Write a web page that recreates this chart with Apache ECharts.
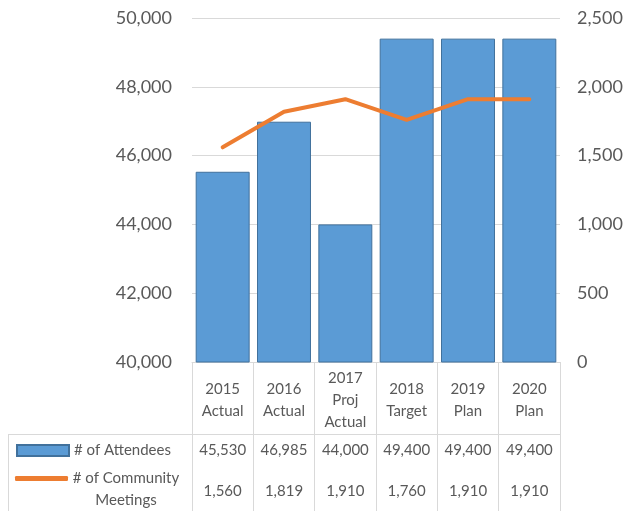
<!DOCTYPE html>
<html>
<head>
<meta charset="utf-8">
<script src="https://cdn.jsdelivr.net/npm/echarts@6/dist/echarts.min.js"></script>
<style>
    html, body { margin: 0; padding: 0; background: #fff; }
    #chart { width: 631px; height: 511px; }
</style>
</head>
<body>
<div id="chart"></div>
<script>
// data
const categories = ['2015\nActual', '2016\nActual', '2017\nProj\nActual', '2018\nTarget', '2019\nPlan', '2020\nPlan']
const attendees = [45530, 46985, 44000, 49400, 49400, 49400]
const meetings = [1560, 1819, 1910, 1760, 1910, 1910]
const leftTicks = {min: 40000, max: 50000, interval: 2000}
const rightTicks = {min: 0, max: 2500, interval: 500}

const FONT = 'Lato'
const TXT = '#595959'
const GRID_LINE = '#D9D9D9'
const fmt = v => v.toLocaleString('en-US')

const chart = echarts.init(document.getElementById('chart'))

chart.setOption({
    animation: false,
    textStyle: {fontFamily: FONT},
    grid: {left: 192, right: 71, top: 18, bottom: 149},
    legend: [
        {
            data: [{name: '# of Attendees', icon: 'rect'}],
            left: 16,
            top: 443,
            padding: 0,
            itemWidth: 52,
            itemHeight: 11,
            selectedMode: false,
            textStyle: {color: TXT, fontSize: 15, fontFamily: FONT}
        },
        {
            data: [{name: '# of Community Meetings', icon: 'roundRect'}],
            left: 15,
            top: 471,
            padding: 0,
            itemWidth: 53,
            itemHeight: 5,
            selectedMode: false,
            formatter: () => '{a|# of Community}\n{a|Meetings}',
            textStyle: {
                color: TXT, fontSize: 15, fontFamily: FONT,
                padding: [22, 0, 0, 0],
                rich: {a: {width: 106, align: 'center', lineHeight: 22, fontSize: 15, color: TXT, fontFamily: FONT}}
            }
        }
    ],
    xAxis: [
        {
            type: 'category',
            data: categories,
            position: 'bottom',
            axisLine: {show: true, lineStyle: {color: GRID_LINE, width: 1}},
            axisTick: {show: true, length: 149, lineStyle: {color: GRID_LINE, width: 1}},
            axisLabel: {color: TXT, fontSize: 15, lineHeight: 22, margin: 38, verticalAlign: 'middle', interval: 0}
        },
        {
            type: 'category',
            data: attendees.map(fmt),
            position: 'bottom',
            axisLine: {show: false},
            axisTick: {show: false},
            axisLabel: {color: TXT, fontSize: 15, margin: 88, verticalAlign: 'middle', interval: 0}
        },
        {
            type: 'category',
            data: meetings.map(fmt),
            position: 'bottom',
            axisLine: {show: false},
            axisTick: {show: false},
            axisLabel: {color: TXT, fontSize: 15, margin: 129, verticalAlign: 'middle', interval: 0}
        }
    ],
    yAxis: [
        {
            type: 'value',
            min: leftTicks.min,
            max: leftTicks.max,
            interval: leftTicks.interval,
            axisLine: {show: false},
            axisTick: {show: false},
            splitLine: {lineStyle: {color: GRID_LINE, width: 1}},
            axisLabel: {color: TXT, fontSize: 18, margin: 20, formatter: fmt}
        },
        {
            type: 'value',
            min: rightTicks.min,
            max: rightTicks.max,
            interval: rightTicks.interval,
            axisLine: {show: false},
            axisTick: {show: false},
            splitLine: {show: false},
            axisLabel: {color: TXT, fontSize: 18, margin: 17, formatter: fmt}
        }
    ],
    series: [
        {
            name: '# of Attendees',
            type: 'bar',
            xAxisIndex: 0,
            yAxisIndex: 0,
            data: attendees,
            barCategoryGap: '12%',
            itemStyle: {color: '#5B9BD5', borderColor: '#41719C', borderWidth: 1}
        },
        {
            name: '# of Community Meetings',
            type: 'line',
            xAxisIndex: 0,
            yAxisIndex: 1,
            data: meetings,
            showSymbol: false,
            symbol: 'none',
            lineStyle: {color: '#ED7D31', width: 4, cap: 'round', join: 'round'},
            itemStyle: {color: '#ED7D31'}
        }
    ],
    graphic: [
        // table borders for the legend column
        {type: 'line', shape: {x1: 8, y1: 434.5, x2: 560, y2: 434.5}, style: {stroke: GRID_LINE, lineWidth: 1}},
        {type: 'line', shape: {x1: 8.5, y1: 434, x2: 8.5, y2: 511}, style: {stroke: GRID_LINE, lineWidth: 1}}
    ]
})
</script>
</body>
</html>
